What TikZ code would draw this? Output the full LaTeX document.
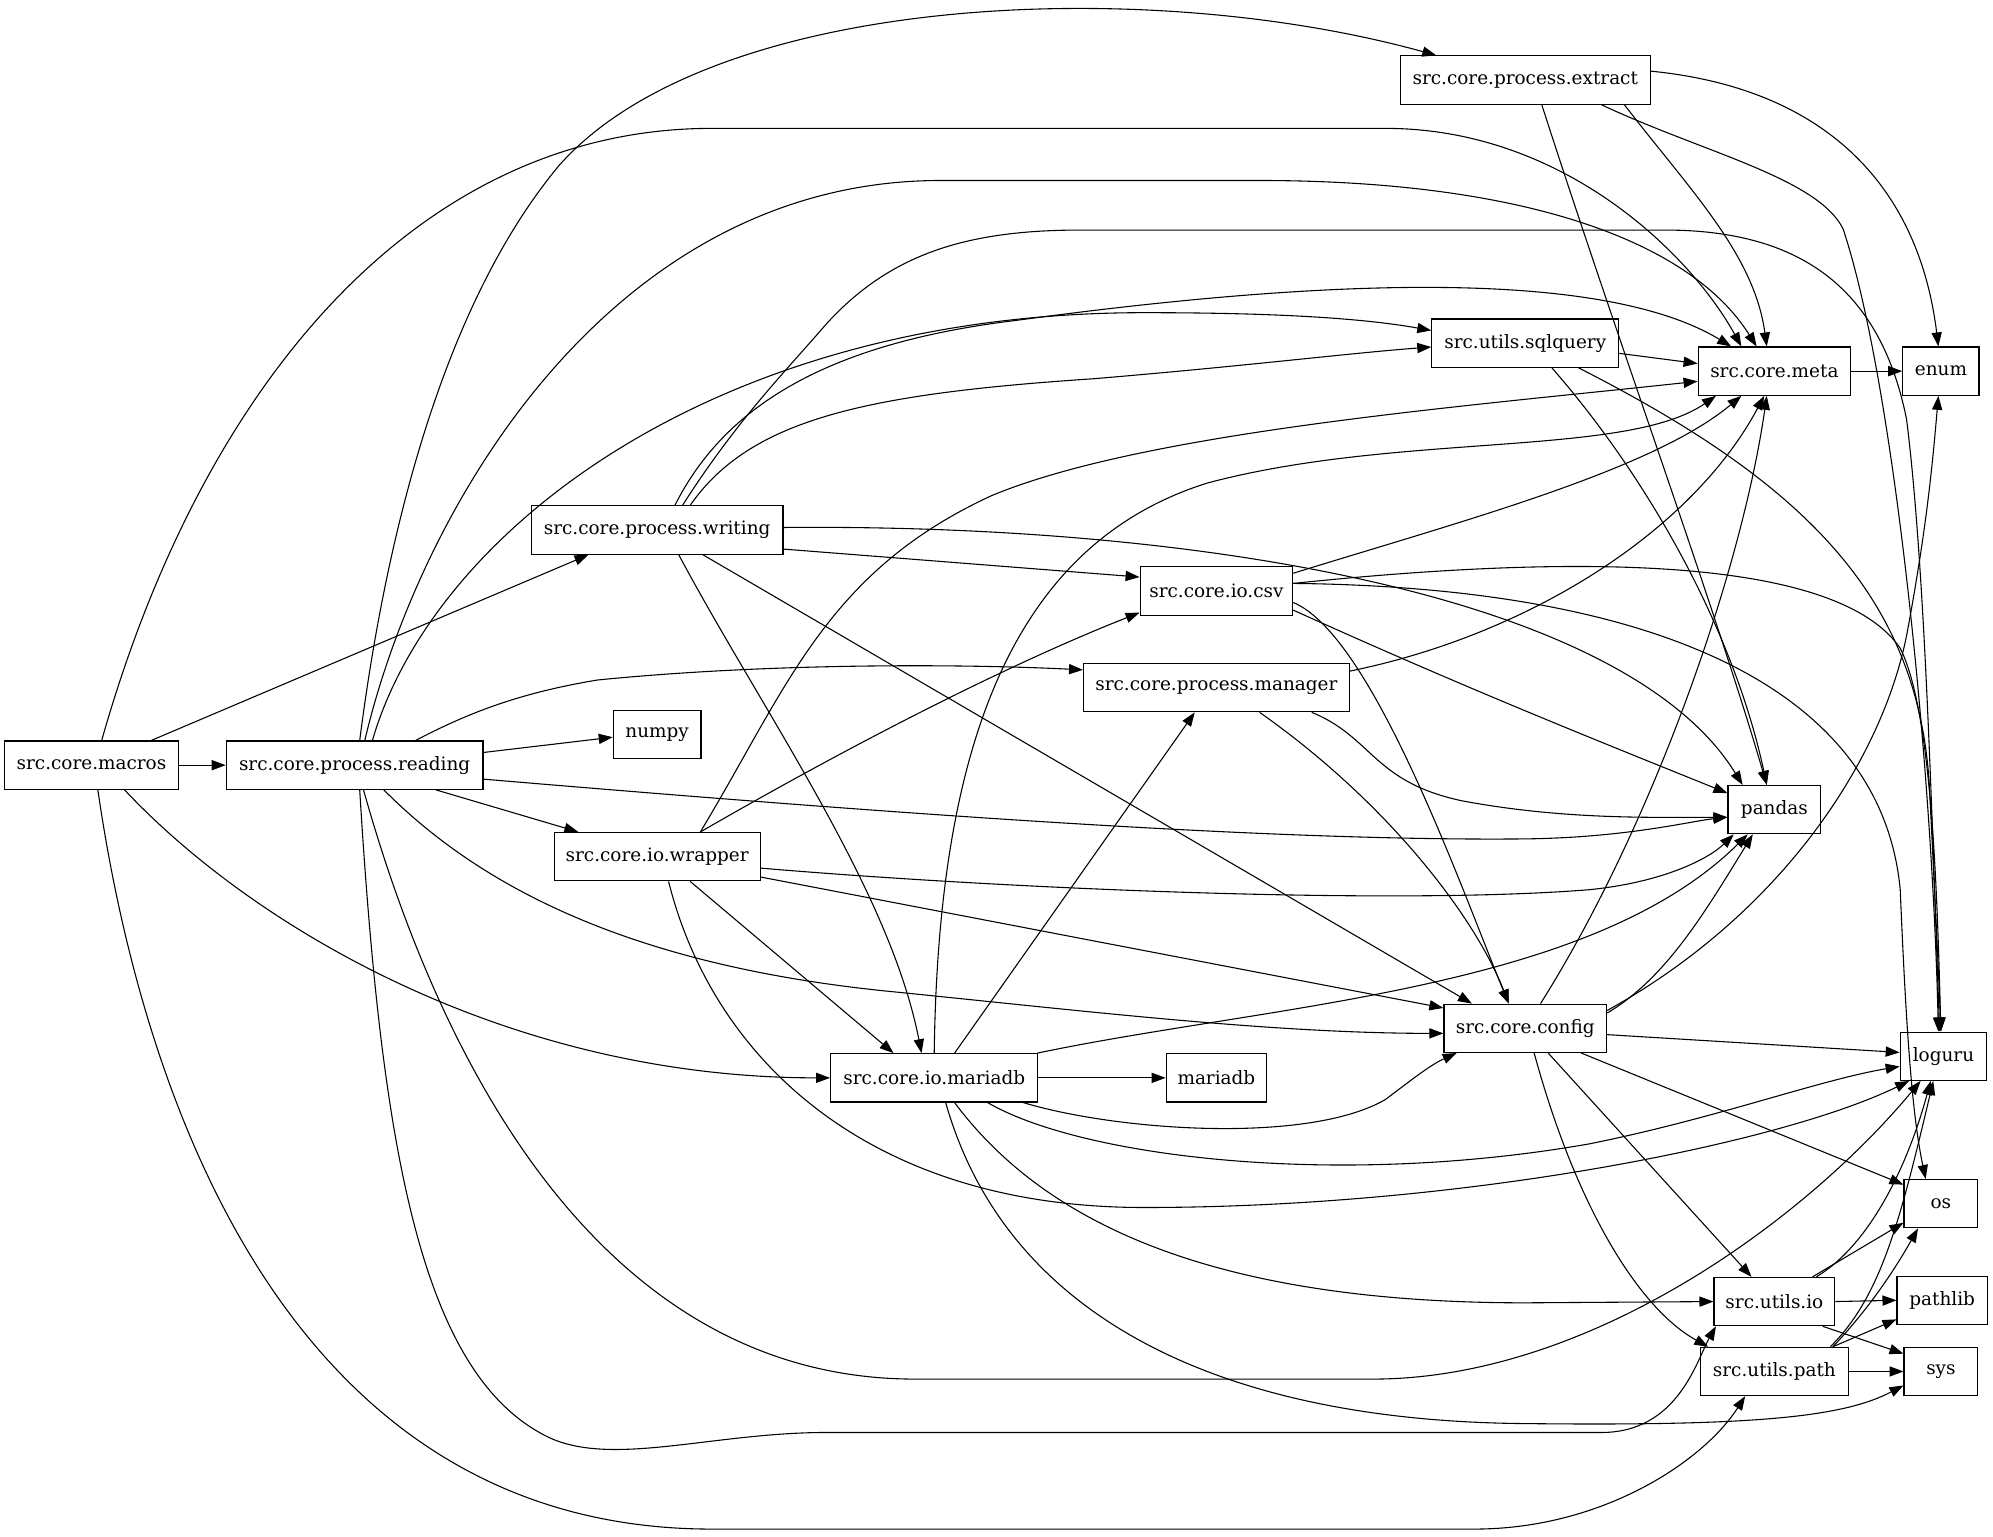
\documentclass[tikz,border=0pt]{standalone}
\usepackage{fontspec}
\setmainfont{DejaVu Serif}
\usetikzlibrary{arrows.meta}
\begin{document}
\begin{tikzpicture}[x=1pt,y=-1pt,
  box/.style={draw, line width=0.9pt, minimum height=38pt, inner sep=0pt, font=\fontsize{14.5}{17}\selectfont},
  edge/.style={line width=0.85pt, -{Triangle[length=11pt,width=8pt]}}]
\useasboundingbox (0,0) rectangle (1568,1209);
% nodes
\node[box, minimum width=137pt] (macros) at (72,602) {src.core.macros};
\node[box, minimum width=202pt] (reading) at (279,602) {src.core.process.reading};
\node[box, minimum width=69pt] (numpy) at (517,578) {numpy};
\node[box, minimum width=198pt] (writing) at (517,417) {src.core.process.writing};
\node[box, minimum width=162pt] (wrapper) at (517,674) {src.core.io.wrapper};
\node[box, minimum width=163pt] (iomariadb) at (735,848) {src.core.io.mariadb};
\node[box, minimum width=79pt] (mariadb) at (957,848) {mariadb};
\node[box, minimum width=120pt] (csv) at (957,465) {src.core.io.csv};
\node[box, minimum width=209pt] (manager) at (957,541) {src.core.process.manager};
\node[box, minimum width=197pt] (extract) at (1200,63) {src.core.process.extract};
\node[box, minimum width=147pt] (sqlquery) at (1200,270) {src.utils.sqlquery};
\node[box, minimum width=128pt] (config) at (1200,809) {src.core.config};
\node[box, minimum width=120pt] (meta) at (1396,292) {src.core.meta};
\node[box, minimum width=73pt] (pandas) at (1396,637) {pandas};
\node[box, minimum width=95pt] (utilsio) at (1396,1024) {src.utils.io};
\node[box, minimum width=116pt] (utilspath) at (1396,1079) {src.utils.path};
\node[box, minimum width=60pt] (enum) at (1527,292) {enum};
\node[box, minimum width=68pt] (loguru) at (1529,831) {loguru};
\node[box, minimum width=58pt] (os) at (1527,947) {os};
\node[box, minimum width=71pt] (pathlib) at (1528,1023) {pathlib};
\node[box, minimum width=58pt] (sys) at (1527,1079) {sys};
% macros
\draw[edge] (macros.east) -- (reading.west);
\draw[edge] ([xshift=47pt]macros.north) -- ([xshift=-54pt]writing.south);
\draw[edge] ([xshift=8pt]macros.north) .. controls (160,300) and (330,101) .. (560,101) -- (1090,101) .. controls (1230,101) and (1330,200) .. ([xshift=-26pt]meta.north);
\draw[edge] ([xshift=26pt]macros.south) .. controls (200,730) and (400,848) .. (iomariadb.west);
\draw[edge] ([xshift=5pt]macros.south) .. controls (110,850) and (220,1203) .. (560,1203) -- (1160,1203) .. controls (1260,1203) and (1340,1150) .. ([xshift=-23pt]utilspath.south);
% reading
\draw[edge] ([yshift=10pt]reading.east) -- ([yshift=-2pt]numpy.west);
\draw[edge] ([xshift=48pt]reading.north) .. controls (370,560) and (410,545) .. (470,535) .. controls (600,522) and (750,522) .. ([yshift=14pt]manager.west);
\draw[edge] ([xshift=64pt]reading.south) -- ([xshift=-62pt]wrapper.north);
\draw[edge] ([yshift=-11pt]reading.east) .. controls (700,640) and (1000,662) .. (1200,660) .. controls (1280,659) and (1330,646) .. ([yshift=-6pt]pandas.west);
\draw[edge] ([xshift=23pt]reading.south) .. controls (380,700) and (500,760) .. (700,780) .. controls (850,795) and (1000,813) .. ([yshift=-4pt]config.west);
\draw[edge] ([xshift=4pt]reading.north) .. controls (300,450) and (340,250) .. (440,130) .. controls (560,-5) and (900,-20) .. ([xshift=-70pt]extract.north);
\draw[edge] ([xshift=8pt]reading.north) .. controls (330,400) and (480,142) .. (740,142) -- (990,142) .. controls (1200,142) and (1330,190) .. ([xshift=-14pt]meta.north);
\draw[edge] ([xshift=14pt]reading.north) .. controls (340,420) and (560,246) .. (900,246) .. controls (1000,246) and (1070,250) .. ([yshift=10pt]sqlquery.west);
\draw[edge] ([xshift=7pt]reading.south) .. controls (350,850) and (480,1085) .. (720,1085) -- (1080,1085) .. controls (1250,1085) and (1420,960) .. ([xshift=-18pt]loguru.south);
\draw[edge] ([xshift=4pt]reading.south) .. controls (300,900) and (330,1080) .. (430,1130) .. controls (480,1155) and (560,1127) .. (650,1127) -- (1260,1127) .. controls (1320,1127) and (1335,1070) .. ([xshift=-46pt]utilsio.south);
% writing
\draw[edge] ([yshift=-15pt]writing.east) -- ([yshift=11pt]csv.west);
\draw[edge] ([yshift=2pt]writing.east) .. controls (950,412) and (1280,470) .. ([xshift=-25pt]pandas.north);
\draw[edge] ([xshift=36pt]writing.south) -- ([xshift=-42pt]config.north);
\draw[edge] ([xshift=17pt]writing.south) .. controls (600,560) and (700,700) .. ([xshift=-10pt]iomariadb.north);
\draw[edge] ([xshift=26pt]writing.north) .. controls (590,330) and (680,310) .. (860,298) .. controls (980,288) and (1060,278) .. ([yshift=-3pt]sqlquery.west);
\draw[edge] ([xshift=14pt]writing.north) .. controls (570,320) and (650,270) .. (800,252) .. controls (1000,225) and (1250,205) .. ([xshift=-34pt]meta.north);
\draw[edge] ([xshift=20pt]writing.north) .. controls (580,330) and (620,290) .. (650,255) .. controls (700,200) and (760,181) .. (850,181) -- (1310,181) .. controls (1420,181) and (1480,230) .. (1500,330) .. controls (1515,450) and (1520,650) .. ([xshift=-3pt]loguru.north);
% wrapper
\draw[edge] ([xshift=34pt]wrapper.north) .. controls (680,580) and (800,520) .. ([yshift=-17pt]csv.west);
\draw[edge] ([xshift=34pt]wrapper.north) .. controls (620,540) and (650,450) .. (780,390) .. controls (900,340) and (1150,320) .. ([yshift=-8pt]meta.west);
\draw[edge] ([yshift=-9pt]wrapper.east) .. controls (800,700) and (1100,712) .. (1250,700) .. controls (1310,694) and (1345,675) .. ([xshift=-32pt]pandas.south);
\draw[edge] ([yshift=-16pt]wrapper.east) -- ([yshift=16pt]config.west);
\draw[edge] ([xshift=26pt]wrapper.south) -- ([xshift=-32pt]iomariadb.north);
\draw[edge] ([xshift=9pt]wrapper.south) .. controls (560,830) and (680,950) .. (900,950) .. controls (1150,950) and (1400,900) .. ([xshift=-27pt]loguru.south);
% csv
\draw[edge] ([yshift=14pt]csv.east) .. controls (1150,410) and (1300,370) .. ([xshift=-26pt]meta.south);
\draw[edge] ([yshift=6pt]csv.east) .. controls (1200,440) and (1440,430) .. (1495,510) .. controls (1520,560) and (1524,700) .. ([xshift=-2pt]loguru.north);
\draw[edge] ([yshift=6pt]csv.east) .. controls (1300,462) and (1480,540) .. (1495,700) .. controls (1500,820) and (1505,880) .. ([xshift=-12pt]os.north);
\draw[edge] ([yshift=-15pt]csv.east) .. controls (1150,540) and (1250,580) .. ([yshift=13pt]pandas.west);
\draw[edge] ([yshift=-9pt]csv.east) .. controls (1080,500) and (1150,700) .. ([xshift=-13pt]config.north);
% manager
\draw[edge] ([yshift=13pt]manager.east) .. controls (1200,500) and (1330,420) .. ([xshift=-8pt]meta.south);
\draw[edge] ([xshift=75pt]manager.south) .. controls (1080,580) and (1080,615) .. (1150,630) .. controls (1230,645) and (1300,643) .. ([yshift=-6pt]pandas.west);
\draw[edge] ([xshift=34pt]manager.south) .. controls (1090,630) and (1160,720) .. ([xshift=-13pt]config.north);
% io.mariadb
\draw[edge] (iomariadb.north) .. controls (738,600) and (790,430) .. (950,380) .. controls (1100,340) and (1280,360) .. ([xshift=-46pt]meta.south);
\draw[edge] ([xshift=16pt]iomariadb.north) -- ([xshift=-17pt]manager.south);
\draw[edge] ([xshift=81pt]iomariadb.north) .. controls (1000,790) and (1250,780) .. ([xshift=-21pt]pandas.south);
\draw[edge] ([xshift=70pt]iomariadb.south) .. controls (880,890) and (1030,900) .. (1090,865) .. controls (1110,850) and (1125,838) .. ([xshift=-54pt]config.south);
\draw[edge] ([xshift=42pt]iomariadb.south) .. controls (850,910) and (1050,935) .. (1250,900) .. controls (1350,880) and (1430,850) .. ([yshift=-8pt]loguru.west);
\draw[edge] (iomariadb.east) -- (mariadb.west);
\draw[edge] ([xshift=16pt]iomariadb.south) .. controls (820,960) and (950,1025) .. (1200,1025) -- (utilsio.west);
\draw[edge] ([xshift=9pt]iomariadb.south) .. controls (790,1030) and (950,1118) .. (1200,1120) .. controls (1380,1122) and (1450,1115) .. ([yshift=-11pt]sys.west);
% config
\draw[edge] ([xshift=12pt]config.north) .. controls (1300,650) and (1370,450) .. ([xshift=-6pt]meta.south);
\draw[edge] ([yshift=14pt]config.east) .. controls (1400,720) and (1480,600) .. (1500,500) .. controls (1515,420) and (1520,370) .. ([xshift=-2pt]enum.south);
\draw[edge] ([yshift=12pt]config.east) .. controls (1310,770) and (1340,720) .. ([xshift=-17pt]pandas.south);
\draw[edge] ([yshift=-5pt]config.east) -- ([yshift=3pt]loguru.west);
\draw[edge] ([xshift=44pt]config.south) -- ([yshift=15pt]os.west);
\draw[edge] ([xshift=18pt]config.south) -- ([xshift=-18pt]utilsio.north);
\draw[edge] ([xshift=7pt]config.south) .. controls (1240,950) and (1290,1030) .. ([xshift=-52pt]utilspath.north);
% extract
\draw[edge] ([yshift=7pt]extract.east) .. controls (1440,70) and (1510,150) .. ([xshift=-2pt]enum.north);
\draw[edge] ([xshift=78pt]extract.south) .. controls (1330,150) and (1380,200) .. ([xshift=-6pt]meta.north);
\draw[edge] ([xshift=13pt]extract.south) .. controls (1270,260) and (1350,480) .. ([xshift=-6pt]pandas.north);
\draw[edge] ([xshift=60pt]extract.south) .. controls (1340,120) and (1430,140) .. (1450,180) .. controls (1490,300) and (1520,600) .. ([xshift=-4pt]loguru.north);
% sqlquery
\draw[edge] ([yshift=-8pt]sqlquery.east) -- ([yshift=6pt]meta.west);
\draw[edge] ([xshift=21pt]sqlquery.south) .. controls (1300,380) and (1365,500) .. ([xshift=-6pt]pandas.north);
\draw[edge] ([xshift=42pt]sqlquery.south) .. controls (1420,380) and (1510,470) .. (1518,620) .. controls (1522,700) and (1525,760) .. ([xshift=-2pt]loguru.north);
% meta
\draw[edge] (meta.east) -- (enum.west);
% utils.io
\draw[edge] ([xshift=30pt]utilsio.north) -- ([yshift=-15pt]os.west);
\draw[edge] (utilsio.east) -- (pathlib.west);
\draw[edge] ([xshift=38pt]utilsio.south) -- ([yshift=14pt]sys.west);
\draw[edge] ([xshift=33pt]utilsio.north) .. controls (1470,980) and (1500,920) .. ([xshift=-10pt]loguru.south);
% utils.path
\draw[edge] ([xshift=46pt]utilspath.north) .. controls (1470,1030) and (1490,1000) .. ([xshift=-18pt]os.south);
\draw[edge] ([xshift=46pt]utilspath.north) -- ([yshift=-15pt]pathlib.west);
\draw[edge] (utilspath.east) -- (sys.west);
\draw[edge] ([xshift=44pt]utilspath.north) .. controls (1480,1020) and (1495,960) .. ([xshift=-8pt]loguru.south);
\end{tikzpicture}
\end{document}
